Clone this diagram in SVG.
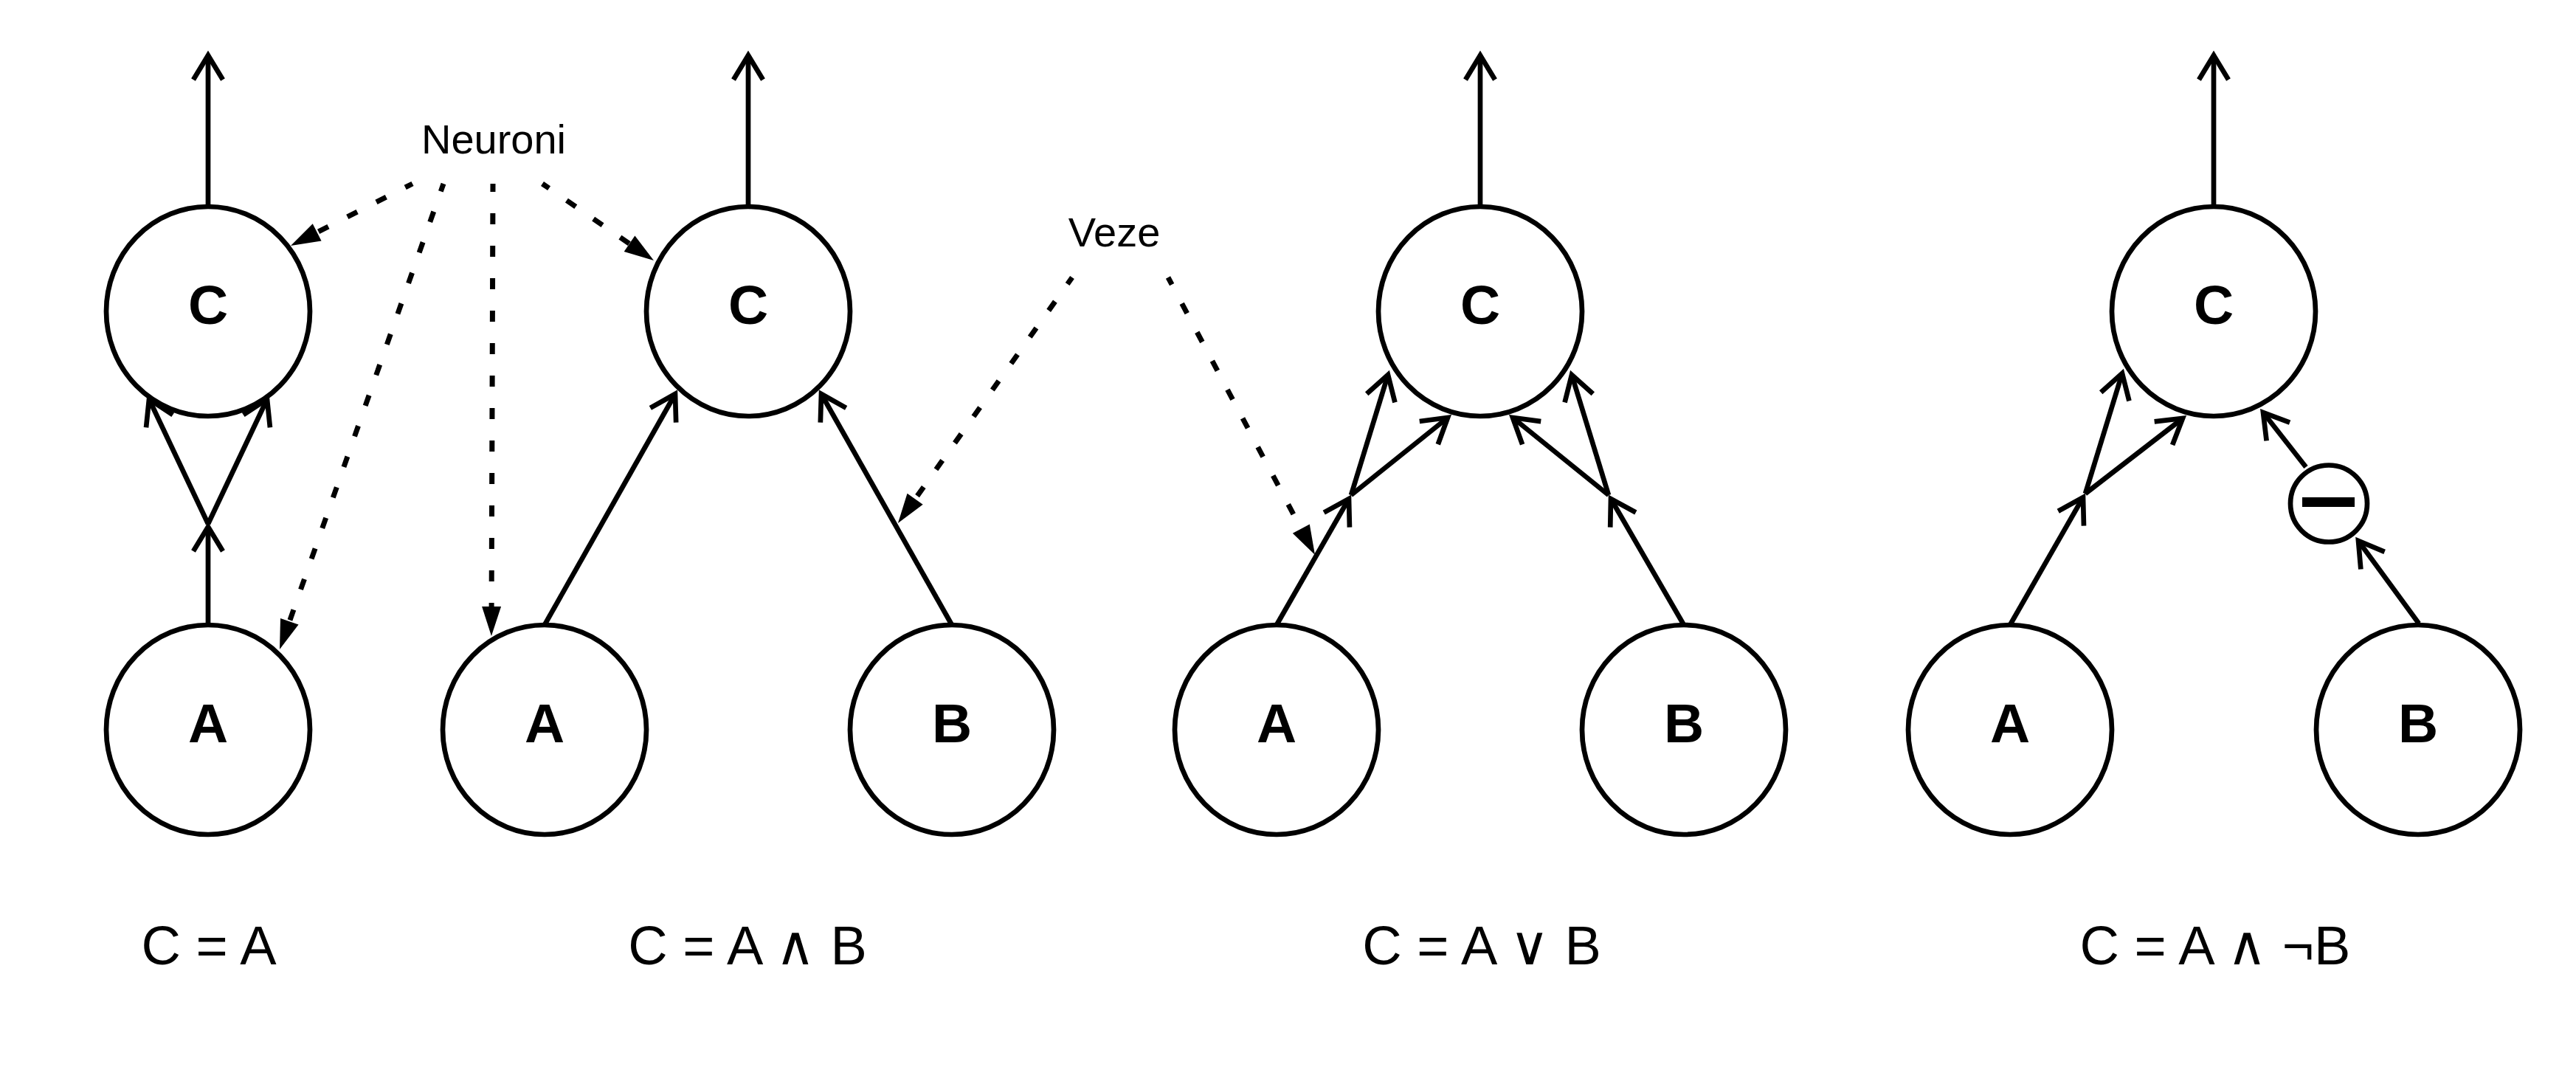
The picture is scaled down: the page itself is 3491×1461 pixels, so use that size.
<svg xmlns="http://www.w3.org/2000/svg" width="3491" height="1461" viewBox="0 0 3491 1461">
<style>
  .node ellipse, .node circle { fill:#fff; stroke:#000; stroke-width:6.7; }
  .lbl { font-family:"Liberation Sans", Arial, sans-serif; font-weight:bold; font-size:75px; text-anchor:middle; fill:#000; }
  .note { font-family:"Liberation Sans", Arial, sans-serif; font-size:56px; text-anchor:middle; fill:#000; }
  .formula { font-family:"Liberation Sans", "DejaVu Sans", Arial, sans-serif; font-size:74px; text-anchor:middle; fill:#000; }
  .edge { fill:none; stroke:#000; stroke-width:6.7; marker-end:url(#open); }
  .dash { fill:none; stroke:#000; stroke-width:7; stroke-dasharray:15 29; stroke-dashoffset:4; marker-end:url(#block); }
</style>
<defs>
  <marker id="open" markerUnits="userSpaceOnUse" markerWidth="80" markerHeight="80" viewBox="-40 -40 80 80" refX="0" refY="0" orient="auto" overflow="visible">
    <path d="M-33,-20 L0,0 L-33,20" fill="none" stroke="#000" stroke-width="6.7" stroke-linejoin="miter"/>
  </marker>
  <marker id="block" markerUnits="userSpaceOnUse" markerWidth="60" markerHeight="40" viewBox="-30 -20 60 40" refX="0" refY="0" orient="auto" overflow="visible">
    <path d="M12,0 L-28,-13 L-28,13 Z" fill="#000"/>
  </marker>
</defs>
<rect width="3491" height="1461" fill="#fff"/>

<g id="nodes">
  <g id="p1-C" class="node"><ellipse cx="282" cy="422" rx="138" ry="142"/><text class="lbl" x="282" y="439">C</text></g>
  <g id="p1-A" class="node"><ellipse cx="282" cy="989" rx="138" ry="142"/><text class="lbl" x="282" y="1006">A</text></g>

  <g id="p2-C" class="node"><ellipse cx="1014" cy="422" rx="138" ry="142"/><text class="lbl" x="1014" y="439">C</text></g>
  <g id="p2-A" class="node"><ellipse cx="738" cy="989" rx="138" ry="142"/><text class="lbl" x="738" y="1006">A</text></g>
  <g id="p2-B" class="node"><ellipse cx="1290" cy="989" rx="138" ry="142"/><text class="lbl" x="1290" y="1006">B</text></g>

  <g id="p3-C" class="node"><ellipse cx="2006" cy="422" rx="138" ry="142"/><text class="lbl" x="2006" y="439">C</text></g>
  <g id="p3-A" class="node"><ellipse cx="1730" cy="989" rx="138" ry="142"/><text class="lbl" x="1730" y="1006">A</text></g>
  <g id="p3-B" class="node"><ellipse cx="2282" cy="989" rx="138" ry="142"/><text class="lbl" x="2282" y="1006">B</text></g>

  <g id="p4-C" class="node"><ellipse cx="3000" cy="422" rx="138" ry="142"/><text class="lbl" x="3000" y="439">C</text></g>
  <g id="p4-A" class="node"><ellipse cx="2724" cy="989" rx="138" ry="142"/><text class="lbl" x="2724" y="1006">A</text></g>
  <g id="p4-B" class="node"><ellipse cx="3277" cy="989" rx="138" ry="142"/><text class="lbl" x="3277" y="1006">B</text></g>
  <g id="p4-inhibit" class="node"><circle cx="3156" cy="682.5" r="52"/><rect x="3120" y="674" width="71" height="13" fill="#000"/></g>
</g>

<g id="labels">
  <g id="label-neuroni"><text class="note" x="669" y="208">Neuroni</text></g>
  <g id="label-veze"><text class="note" x="1510" y="334">Veze</text></g>
</g>

<g id="connectors">
  <line class="edge" x1="282" y1="280" x2="282" y2="75"/>
  <line class="edge" x1="1014" y1="280" x2="1014" y2="75"/>
  <line class="edge" x1="2006" y1="280" x2="2006" y2="75"/>
  <line class="edge" x1="3000" y1="280" x2="3000" y2="75"/>

  <line class="edge" x1="282" y1="847" x2="282" y2="714"/>
  <line class="edge" x1="282" y1="710" x2="202" y2="541"/>
  <line class="edge" x1="282" y1="710" x2="362" y2="541"/>

  <line class="edge" x1="738" y1="847" x2="915" y2="534"/>
  <line class="edge" x1="1290" y1="847" x2="1113" y2="534"/>

  <line class="edge" x1="1730" y1="847" x2="1828" y2="676"/>
  <line class="edge" x1="1831" y1="671" x2="1881" y2="508"/>
  <line class="edge" x1="1831" y1="671" x2="1962" y2="566"/>
  <line class="edge" x1="2282" y1="847" x2="2183" y2="676"/>
  <line class="edge" x1="2180" y1="671" x2="2130" y2="508"/>
  <line class="edge" x1="2180" y1="671" x2="2050" y2="566"/>

  <line class="edge" x1="2724" y1="847" x2="2823" y2="674"/>
  <line class="edge" x1="2826" y1="669" x2="2876" y2="506"/>
  <line class="edge" x1="2826" y1="669" x2="2958" y2="567"/>
  <line class="edge" x1="3278" y1="845" x2="3196" y2="733"/>
  <line class="edge" x1="3125" y1="633" x2="3067" y2="559"/>

  <line class="dash" x1="559" y1="249" x2="404.7" y2="327.6"/>
  <line class="dash" x1="601" y1="249" x2="383" y2="868.7"/>
  <line class="dash" x1="668" y1="249" x2="666" y2="850"/>
  <line class="dash" x1="735" y1="249" x2="876.1" y2="346.2"/>
  <line class="dash" x1="1453" y1="376" x2="1223.9" y2="699.2"/>
  <line class="dash" x1="1583" y1="376" x2="1776.4" y2="741.4"/>
</g>

<g id="formulas">
  <text class="formula" x="283" y="1307">C = A</text>
  <text class="formula" x="1013" y="1307">C = A ∧ B</text>
  <text class="formula" x="2008" y="1307">C = A ∨ B</text>
  <text class="formula" x="3002" y="1307">C = A ∧ ¬B</text>
</g>
</svg>
